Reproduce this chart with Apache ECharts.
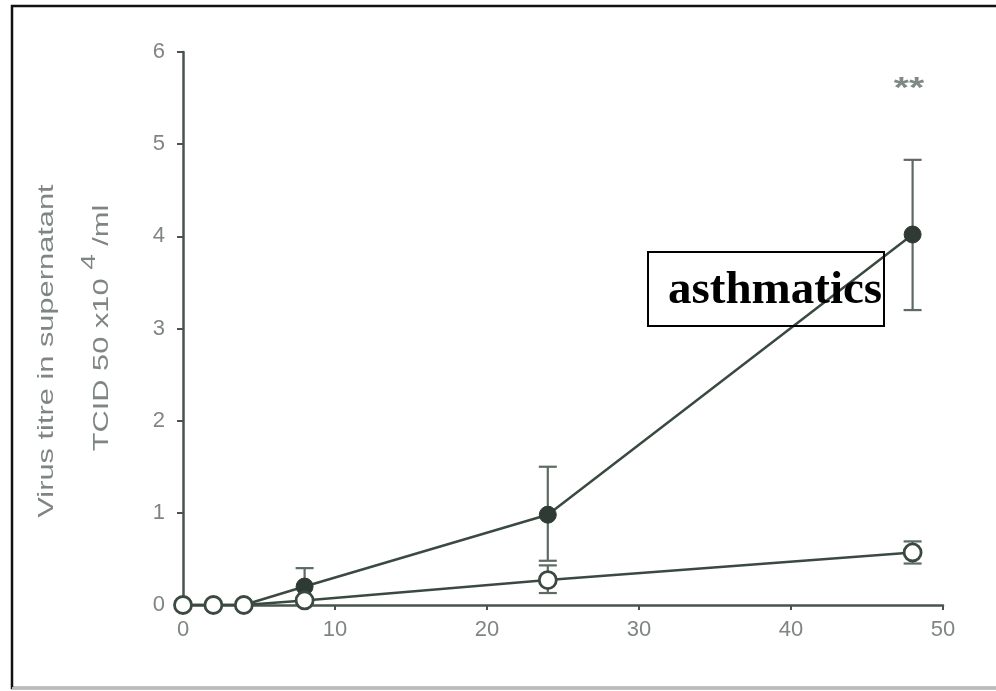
<!DOCTYPE html>
<html>
<head>
<meta charset="utf-8">
<script src="https://cdn.jsdelivr.net/npm/echarts@6/dist/echarts.min.js"></script>
<style>
html,body{margin:0;padding:0;background:#fff;}
#c{width:996px;height:691px;}
</style>
</head>
<body>
<div id="c"></div>
<script>
// ---- data ----
var hours = [0, 2, 4, 8, 24, 48];
var asthmaticMean = [0, 0, 0, 0.2, 0.98, 4.02];
var asthmaticLow  = [null, null, null, 0.0, 0.48, 3.2];
var asthmaticHigh = [null, null, null, 0.4, 1.5, 4.83];
var normalMean = [0, 0, 0, 0.05, 0.27, 0.57];
var normalLow  = [null, null, null, null, 0.13, 0.45];
var normalHigh = [null, null, null, null, 0.43, 0.69];
var xTicks = [0, 10, 20, 30, 40, 50];
var yTicks = [0, 1, 2, 3, 4, 5, 6];
var yTitle1 = 'Virus titre in supernatant';
var annotationLabel = 'asthmatics';
var signifLabel = '**';

function pairs(xs, ys) { return xs.map(function (x, i) { return [x, ys[i]]; }); }
function errData(xs, lo, hi) {
  var out = [];
  xs.forEach(function (x, i) { if (lo[i] != null && hi[i] != null) out.push([x, lo[i], hi[i]]); });
  return out;
}
var lineCol = '#3b4a41';
var errCol = '#5d6b63';
var txtCol = '#7f8682';
function errRender(params, api) {
  var x = api.value(0);
  var lo = api.coord([x, api.value(1)]);
  var hi = api.coord([x, api.value(2)]);
  var hw = 9;
  var st = { stroke: errCol, lineWidth: 2.2 };
  return { type: 'group', children: [
    { type: 'line', shape: { x1: lo[0], y1: lo[1], x2: hi[0], y2: hi[1] }, style: st },
    { type: 'line', shape: { x1: lo[0] - hw, y1: lo[1], x2: lo[0] + hw, y2: lo[1] }, style: st },
    { type: 'line', shape: { x1: hi[0] - hw, y1: hi[1], x2: hi[0] + hw, y2: hi[1] }, style: st }
  ]};
}

var chart = echarts.init(document.getElementById('c'), null, { renderer: 'canvas' });
var labelFont = 'Liberation Sans, Arial, sans-serif';
chart.setOption({
  animation: false,
  backgroundColor: '#fff',
  grid: { left: 183, right: 53, top: 52, bottom: 86, containLabel: false },
  xAxis: {
    type: 'value', min: xTicks[0], max: xTicks[xTicks.length - 1], interval: 10,
    axisLine: { show: true, lineStyle: { color: '#4a544e', width: 2.5 } },
    axisTick: { show: true, length: 5, lineStyle: { color: '#4a544e', width: 2 } },
    axisLabel: { color: txtCol, fontSize: 22, fontFamily: labelFont, margin: 14,
      formatter: function (v) { return xTicks.indexOf(v) >= 0 ? String(v) : ''; } },
    splitLine: { show: false }
  },
  yAxis: {
    type: 'value', min: yTicks[0], max: yTicks[yTicks.length - 1], interval: 1,
    axisLine: { show: true, lineStyle: { color: '#4a544e', width: 2.5 } },
    axisTick: { show: true, length: 6, lineStyle: { color: '#4a544e', width: 2 } },
    axisLabel: { color: txtCol, fontSize: 22, fontFamily: labelFont, margin: 18,
      formatter: function (v) { return yTicks.indexOf(v) >= 0 ? String(v) : ''; } },
    splitLine: { show: false }
  },
  series: [
    { type: 'custom', renderItem: errRender, data: errData(hours, asthmaticLow, asthmaticHigh), z: 2, silent: true },
    { type: 'custom', renderItem: errRender, data: errData(hours, normalLow, normalHigh), z: 2, silent: true },
    { type: 'line', data: pairs(hours, asthmaticMean), symbol: 'circle', symbolSize: 17,
      lineStyle: { color: lineCol, width: 2.5 }, itemStyle: { color: '#2e3a33', borderColor: '#2e3a33', borderWidth: 1 }, z: 3 },
    { type: 'line', data: pairs(hours, normalMean), symbol: 'circle', symbolSize: 17,
      lineStyle: { color: lineCol, width: 2.5 }, itemStyle: { color: '#ffffff', borderColor: '#3b4a41', borderWidth: 2.8 }, z: 4 }
  ],
  graphic: [
    { type: 'rect', shape: { x: 12, y: 6, width: 990, height: 682 }, style: { fill: 'none', stroke: '#111', lineWidth: 2.5 }, z: 0 },
    { type: 'line', shape: { x1: 12, y1: 688, x2: 996, y2: 688 }, style: { stroke: '#bbbbbb', lineWidth: 2 }, z: 1 },
    { type: 'text', x: 47, y: 351, rotation: Math.PI / 2, scaleX: 1.4,
      style: { text: yTitle1, fill: txtCol, font: '22px Liberation Sans, Arial, sans-serif', align: 'center', verticalAlign: 'middle' } },
    { type: 'text', x: 96, y: 328, rotation: Math.PI / 2, scaleX: 1.4,
      style: { text: '{m|TCID 50 x10 }{s|4}{m| /ml}', align: 'center', verticalAlign: 'middle',
        rich: {
          m: { fill: txtCol, fontSize: 22, fontFamily: labelFont, lineHeight: 34, verticalAlign: 'bottom' },
          s: { fill: txtCol, fontSize: 20, fontFamily: labelFont, lineHeight: 34, verticalAlign: 'top' }
        } } },
    { type: 'text', x: 909, y: 89, scaleX: 1.3,
      style: { text: signifLabel, fill: '#7f8a85', font: 'bold 30px Liberation Sans, Arial, sans-serif', align: 'center', verticalAlign: 'middle' } },
    { type: 'rect', shape: { x: 648, y: 252, width: 236, height: 74 }, style: { fill: 'none', stroke: '#000', lineWidth: 2 }, z: 10 },
    { type: 'text', x: 668, y: 291, z: 10,
      style: { text: annotationLabel, fill: '#000', font: 'bold 47px Liberation Serif, Times New Roman, serif', align: 'left', verticalAlign: 'middle' } }
  ]
});
</script>
</body>
</html>
